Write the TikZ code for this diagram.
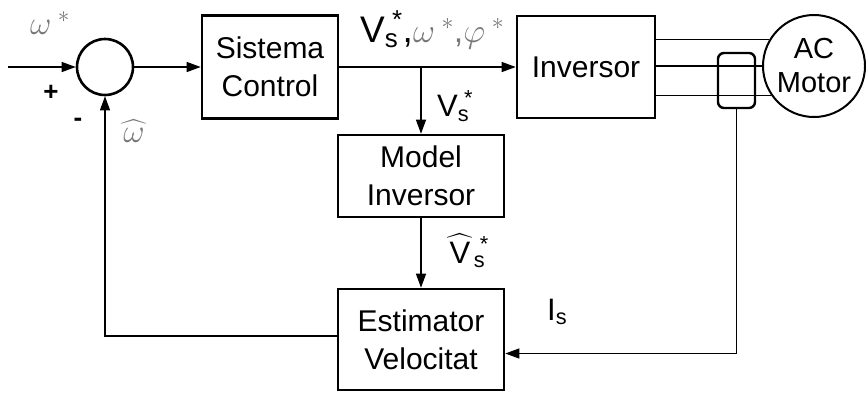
\RequirePackage{fix-cm}
\documentclass[tikz,border=0pt]{standalone}
\usepackage{fontspec}
\setmainfont{Liberation Sans}
\usetikzlibrary{arrows.meta, positioning, calc}
\usepackage{amsmath}
\usepackage{xcolor}
\definecolor{symgray}{RGB}{120,120,120}

\begin{document}
\begin{tikzpicture}[x=1pt, y=-1pt,
  blockbox/.style={draw, line width=2.6pt, minimum width=136pt, minimum height=103pt,
    align=center, inner sep=0pt, font=\fontsize{30}{38}\selectfont},
  signal/.style={line width=1.2pt, -{Triangle[length=14pt, width=10pt]}},
  wire/.style={line width=1.2pt},
  lbl/.style={inner sep=0pt, font=\fontsize{31}{31}\selectfont},
  symlbl/.style={inner sep=0pt, symgray, font=\fontsize{33}{33}\selectfont}]
  \useasboundingbox (0,0) rectangle (866,392);

  % Summing junction and blocks
  \node[circle, draw, line width=2.6pt, minimum size=56pt, inner sep=0pt] (sum) at (105,67) {};
  \node[blockbox] (ctrl) at (270,67) {Sistema\\Control};
  \node[blockbox, minimum width=138pt, minimum height=102pt] (inv) at (586,67) {Inversor};
  \node[blockbox, minimum width=166pt, minimum height=82pt] (model) at (421,176) {Model\\Inversor};
  \node[blockbox, minimum width=166pt, minimum height=101pt] (est) at (421,339.5) {Estimator\\Velocitat};

  % Motor and current sensor
  \node[circle, draw, line width=2pt, minimum size=102pt, inner sep=0pt, align=center,
    font=\fontsize{29}{34}\selectfont] (motor) at (814,66) {AC\\Motor};
  \node[draw, rounded corners=6pt, line width=2.4pt, minimum width=37pt, minimum height=55pt,
    inner sep=0pt] (sensor) at (736.5,80.5) {};

  % Forward path
  \coordinate (ref) at (8,67);
  \coordinate (branch) at (model |- ctrl);
  \draw[signal] (ref) -- (sum);
  \draw[signal] (sum) -- (ctrl);
  \draw[signal] (ctrl) -- (inv);
  \draw[signal] (branch) -- (model);
  \draw[signal] (model) -- (est);

  % Three phase lines
  \draw[wire] (inv.east |- motor.149) -- (motor.149);
  \draw[wire] (inv.east |- motor.west) -- (motor.west);
  \draw[wire] (inv.east |- motor.215) -- (motor.215);

  % Feedback paths
  \draw[signal] (sensor.south) |- ([yshift=-14pt]est.east);
  \draw[signal] ([yshift=3.5pt]est.west) -| (sum.south);

  % Signal labels
  \node[symlbl] (wref) at (50,23) {$\omega^{\;*}$};
  \node[inner sep=0pt, font=\fontsize{26}{26}\selectfont\bfseries] (plus) at (51,93) {+};
  \node[inner sep=0pt, font=\fontsize{26}{26}\selectfont\bfseries] (minus) at (78,122) {-};
  \node[symlbl] (west) at (134,131) {$\widehat{\mkern3mu\omega\mkern3mu}$};
  \node[lbl, anchor=west, font=\fontsize{37}{37}\selectfont] (vsall) at (360,30)
    {$\text{V}_{\text{s}}\mkern-3mu{}^{\text{*}}$,{\color{symgray}\fontsize{34}{34}\selectfont$\omega^{\;*}$,$\varphi^{\;*}$}};
  \node[lbl, anchor=west] (vs) at (437,106) {$\text{V}_{\text{s}}\mkern-3mu{}^{\text{*}}$};
  \node[lbl, anchor=west] (vshat) at (446,251) {$\widehat{\mkern2mu\text{V}\mkern2mu}_{\text{s}}\mkern-3mu{}^{\text{*}}$};
  \node[lbl, anchor=west] (is) at (547,312) {$\text{I}_{\text{s}}$};
\end{tikzpicture}
\end{document}
